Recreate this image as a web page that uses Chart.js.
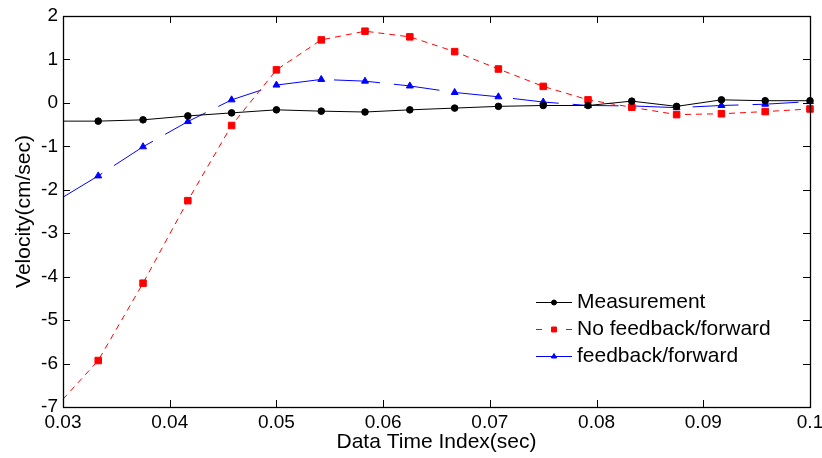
<!DOCTYPE html>
<html>
<head>
<meta charset="utf-8">
<script src="https://cdn.jsdelivr.net/npm/chart.js@4.4.1/dist/chart.umd.min.js"></script>
<style>
  html, body { margin: 0; padding: 0; background: #ffffff; }
  #wrap { width: 822px; height: 458px; position: relative; }
</style>
</head>
<body>
<div id="wrap"><canvas id="c" width="822" height="458"></canvas></div>
<script>
// ---- data ----
const times = [0.03, 0.0333, 0.0375, 0.0417, 0.0458, 0.05, 0.0542, 0.0583, 0.0625, 0.0667, 0.0708, 0.075, 0.0792, 0.0833, 0.0875, 0.0917, 0.0958, 0.1];
const measurement = [-0.42, -0.42, -0.39, -0.30, -0.23, -0.16, -0.19, -0.21, -0.16, -0.12, -0.08, -0.06, -0.06, 0.04, -0.08, 0.07, 0.05, 0.05];
const noFeedback = [-6.82, -5.93, -4.15, -2.25, -0.52, 0.76, 1.45, 1.65, 1.52, 1.18, 0.78, 0.38, 0.07, -0.10, -0.27, -0.25, -0.20, -0.14];
const feedback = [-2.17, -1.68, -1.01, -0.43, 0.07, 0.41, 0.54, 0.50, 0.39, 0.24, 0.14, 0.02, -0.06, -0.07, -0.11, -0.06, -0.03, 0.03];
const xTickValues = [0.03, 0.04, 0.05, 0.06, 0.07, 0.08, 0.09, 0.1];
const yTickValues = [-7, -6, -5, -4, -3, -2, -1, 0, 1, 2];
const seriesNames = ['Measurement', 'No feedback/forward', 'feedback/forward'];

const FONT = '"Liberation Sans", Arial, Helvetica, sans-serif';

function pts(vals) { return times.map((t, i) => ({ x: t, y: vals[i] })); }
function radiusFn(r) { return ctx => (ctx.dataIndex === 0 ? 0 : r); }

const boxAndTicks = {
  id: 'boxAndTicks',
  afterDatasetsDraw(chart) {
    const { ctx, chartArea: a, scales } = chart;
    const L = 7;
    ctx.save();
    ctx.strokeStyle = '#000';
    ctx.lineWidth = 1;
    ctx.beginPath();
    scales.x.ticks.forEach(t => {
      const px = Math.round(scales.x.getPixelForValue(t.value)) + 0.5;
      ctx.moveTo(px, a.bottom); ctx.lineTo(px, a.bottom - L);
      ctx.moveTo(px, a.top); ctx.lineTo(px, a.top + L);
    });
    scales.y.ticks.forEach(t => {
      const py = Math.round(scales.y.getPixelForValue(t.value)) + 0.5;
      ctx.moveTo(a.left, py); ctx.lineTo(a.left + L, py);
      ctx.moveTo(a.right, py); ctx.lineTo(a.right - L, py);
    });
    ctx.stroke();
    ctx.lineWidth = 1.3;
    ctx.strokeRect(Math.round(a.left) + 0.5, Math.round(a.top) + 0.5, Math.round(a.right - a.left), Math.round(a.bottom - a.top));
    ctx.restore();
  }
};

const customLegend = {
  id: 'customLegend',
  afterDraw(chart) {
    const { ctx } = chart;
    const x0 = 536, x1 = 572, tx = 577;
    const rows = [302, 329, 356];
    ctx.save();
    chart.data.datasets.forEach((ds, i) => {
      const y = rows[i] + 0.5;
      ctx.strokeStyle = ds.borderColor;
      ctx.fillStyle = ds.backgroundColor;
      ctx.lineWidth = 1;
      if (i === 1) ctx.setLineDash([6, 24]); else ctx.setLineDash([]);
      ctx.beginPath(); ctx.moveTo(x0, y); ctx.lineTo(x1, y); ctx.stroke();
      ctx.setLineDash([]);
      Chart.helpers.drawPoint(ctx, { pointStyle: ds.pointStyle, radius: ds.legendRadius, borderWidth: 1 }, (x0 + x1) / 2, y);
      ctx.fillStyle = '#000';
      ctx.font = '21px ' + FONT;
      ctx.textBaseline = 'middle';
      ctx.textAlign = 'left';
      ctx.fillText(seriesNames[i], tx, rows[i]);
    });
    ctx.restore();
  }
};

new Chart(document.getElementById('c'), {
  type: 'line',
  data: {
    datasets: [
      {
        label: seriesNames[0], data: pts(measurement),
        borderColor: '#000000', backgroundColor: '#000000', borderWidth: 1,
        pointStyle: 'circle', pointRadius: radiusFn(3.3), legendRadius: 2.5,
        pointBorderWidth: 1, tension: 0, clip: false
      },
      {
        label: seriesNames[1], data: pts(noFeedback),
        borderColor: '#ff0000', backgroundColor: '#ff0000', borderWidth: 1,
        borderDash: [6, 5],
        pointStyle: 'rect', pointRadius: radiusFn(4.6), legendRadius: 3.5,
        pointBorderWidth: 1, tension: 0, clip: false
      },
      {
        label: seriesNames[2], data: pts(feedback),
        borderColor: '#0000ff', backgroundColor: '#0000ff', borderWidth: 1,
        borderDash: [46, 14],
        pointStyle: 'triangle', pointRadius: radiusFn(4), legendRadius: 3,
        pointBorderWidth: 1, tension: 0, clip: false
      }
    ]
  },
  options: {
    responsive: false,
    animation: false,
    devicePixelRatio: 1,
    layout: { padding: { top: 16, right: 12, left: 0, bottom: 0 } },
    plugins: { legend: { display: false }, tooltip: { enabled: false } },
    scales: {
      x: {
        type: 'linear', min: 0.03, max: 0.1,
        afterBuildTicks: s => { s.ticks = xTickValues.map(v => ({ value: v })); },
        afterFit: s => { s.height = 51; s.paddingLeft = 0; s.paddingRight = 0; },
        grid: { display: false, drawTicks: false },
        border: { display: false },
        ticks: {
          color: '#000', padding: 4, maxRotation: 0, autoSkip: false,
          font: { family: FONT, size: 19 },
          callback: v => String(Number(v.toFixed(2)))
        },
        title: {
          display: true, text: 'Data Time Index(sec)', color: '#000',
          font: { family: FONT, size: 21 }, padding: { top: 0, bottom: 3 }
        }
      },
      y: {
        type: 'linear', min: -7, max: 2,
        afterBuildTicks: s => { s.ticks = yTickValues.map(v => ({ value: v })); },
        afterFit: s => { s.width = 63; s.paddingTop = 0; s.paddingBottom = 0; },
        grid: { display: false, drawTicks: false },
        border: { display: false },
        ticks: {
          color: '#000', padding: 5, autoSkip: false,
          font: { family: FONT, size: 19 },
          callback: v => String(v)
        },
        title: {
          display: true, text: 'Velocity(cm/sec)', color: '#000',
          font: { family: FONT, size: 21 }, padding: { top: 12, bottom: 0 }
        }
      }
    }
  },
  plugins: [boxAndTicks, customLegend]
});
</script>
</body>
</html>
